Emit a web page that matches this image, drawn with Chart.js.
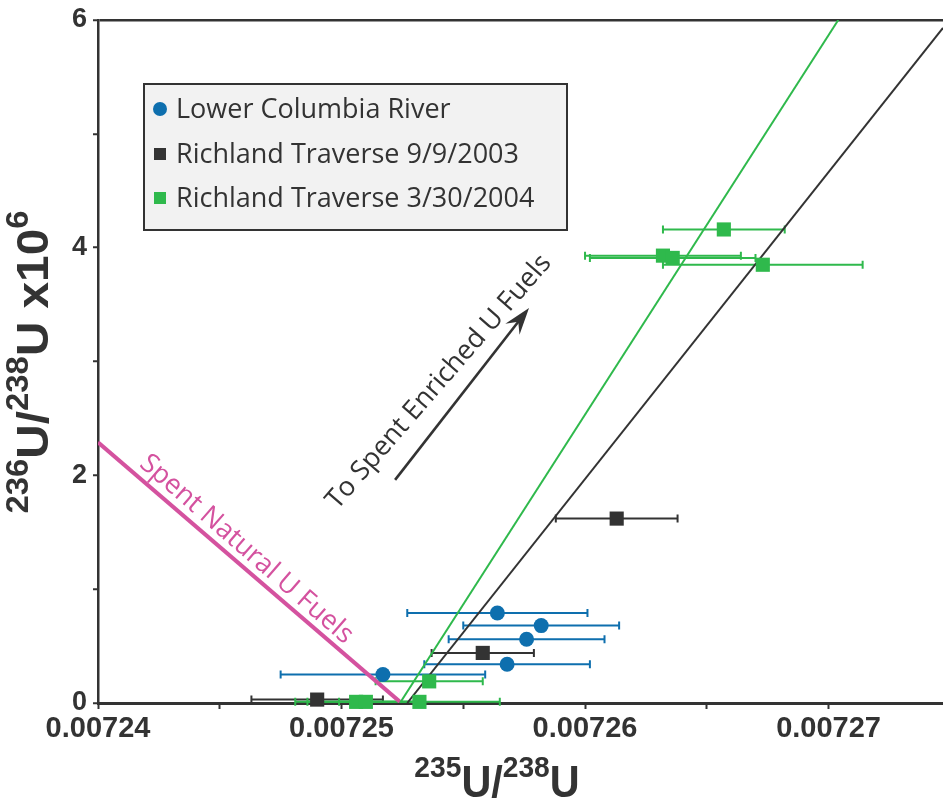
<!DOCTYPE html>
<html>
<head>
<meta charset="utf-8">
<script src="https://cdn.jsdelivr.net/npm/chart.js@4.4.1/dist/chart.umd.min.js"></script>
<style>
  html, body { margin: 0; padding: 0; background: #ffffff; overflow: hidden; }
  canvas { display: block; }
</style>
</head>
<body>
<canvas id="c" width="943" height="802" style="width:943px;height:802px"></canvas>
<script>
// ---------------- data ----------------
const seriesNames = ['Lower Columbia River', 'Richland Traverse 9/9/2003', 'Richland Traverse 3/30/2004'];

const lcrX    = [0.0072564, 0.0072582, 0.0072576, 0.0072568, 0.0072517];
const lcrY    = [0.79, 0.68, 0.56, 0.34, 0.25];
const lcrXErr = [0.0000037, 0.0000032, 0.0000032, 0.0000034, 0.0000042];

const rt2003X    = [0.0072613, 0.0072558, 0.0072490];
const rt2003Y    = [1.62, 0.44, 0.03];
const rt2003XErr = [0.0000025, 0.0000021, 0.0000027];

const rt2004X    = [0.0072657, 0.0072632, 0.0072636, 0.0072673, 0.0072536, 0.0072532, 0.0072506, 0.0072510];
const rt2004Y    = [4.16, 3.93, 3.91, 3.85, 0.19, 0.01, 0.01, 0.01];
const rt2004XErr = [0.0000025, 0.0000032, 0.0000034, 0.0000041, 0.0000022, 0.0000033, 0.0000025, 0.0000024];

// mixing / trend lines (end points)
const greenLineX = [0.0072524, 0.0072704];
const greenLineY = [0, 6];
const blackLineX = [0.0072527, 0.0072747];
const blackLineY = [0, 5.93];
const pinkLineX  = [0.00724, 0.0072524];
const pinkLineY  = [2.29, 0.01];

// axes
const xMin = 0.00724, xMax = 0.0072747;
const yMin = 0, yMax = 6;
const xTickValues = [0.00724, 0.007245, 0.00725, 0.007255, 0.00726, 0.007265, 0.00727];
const xTickLabels = ['0.00724', '', '0.00725', '', '0.00726', '', '0.00727'];
const yTickValues = [0, 1, 2, 3, 4, 5, 6];
const yTickLabels = ['0', '', '2', '', '4', '', '6'];

// titles / annotation text
const xTitleParts = [['235', true], ['U', false], ['/', false], ['238', true], ['U', false]];
const yTitleParts = [['236', true], ['U', false], ['/', false], ['238', true], ['U', false], [' x10', false], ['6', true]];
const arrowLabel = 'To Spent Enriched U Fuels';
const pinkLabel  = 'Spent Natural U Fuels';

// ---------------- styles ----------------
const BLUE = '#0e6fae', DARK = '#333333', GREEN = '#2fb94c', PINK = '#d4529f';
const X_TICK_FONT = { family: 'Liberation Sans', weight: 'bold', size: 29 };
const Y_TICK_FONT = { family: 'Liberation Sans', weight: 'bold', size: 27 };
const NOTE_FONT = '27px "Open Sans"';

const pts = (xs, ys) => xs.map((x, i) => ({ x: x, y: ys[i] }));

// annotation anchors (data coordinates)
const arrowFrom = { x: 0.0072522, y: 1.96 };
const arrowTo   = { x: 0.0072577, y: 3.47 };
const arrowTextAt = { x: 0.0072540, y: 2.82 };
const pinkTextAt  = { x: 0.0072461, y: 1.35 };

// ---------------- plugins ----------------
const errorBars = {
  id: 'errorBars',
  beforeDatasetsDraw(chart) {
    const ctx = chart.ctx, xs = chart.scales.x, ys = chart.scales.y;
    chart.data.datasets.forEach((ds) => {
      if (!ds.xErr) return;
      ctx.save();
      ctx.strokeStyle = ds.errColor;
      ctx.lineWidth = 2;
      ds.data.forEach((p, j) => {
        const e = ds.xErr[j];
        const x1 = xs.getPixelForValue(p.x - e);
        const x2 = xs.getPixelForValue(p.x + e);
        const y = ys.getPixelForValue(p.y);
        ctx.beginPath();
        ctx.moveTo(x1, y); ctx.lineTo(x2, y);
        ctx.moveTo(x1, y - 4); ctx.lineTo(x1, y + 4);
        ctx.moveTo(x2, y - 4); ctx.lineTo(x2, y + 4);
        ctx.stroke();
      });
      ctx.restore();
    });
  }
};

// rich text: parts [text, isSuperscript]; st = {big, sup, raise, sx}
function drawRich(ctx, parts, st) {
  let w = 0;
  parts.forEach(([t, sup]) => { ctx.font = sup ? st.sup : st.big; w += ctx.measureText(t).width; });
  ctx.scale(st.sx, 1);
  let x = -w / 2;
  ctx.textAlign = 'left';
  ctx.textBaseline = 'alphabetic';
  parts.forEach(([t, sup]) => {
    ctx.font = sup ? st.sup : st.big;
    ctx.fillText(t, x, sup ? -st.raise : 0);
    x += ctx.measureText(t).width;
  });
}

const decorations = {
  id: 'decorations',
  afterDraw(chart) {
    const ctx = chart.ctx, xs = chart.scales.x, ys = chart.scales.y;
    ctx.save();
    ctx.fillStyle = DARK;

    // axis titles
    ctx.save();
    ctx.translate(497, 797);
    drawRich(ctx, xTitleParts, { big: 'bold 44px "Liberation Sans"', sup: 'bold 30px "Liberation Sans"', raise: 20, sx: 0.94 });
    ctx.restore();
    ctx.save();
    ctx.translate(48, 362);
    ctx.rotate(-Math.PI / 2);
    drawRich(ctx, yTitleParts, { big: 'bold 45px "Liberation Sans"', sup: 'bold 31px "Liberation Sans"', raise: 20, sx: 1.06 });
    ctx.restore();

    // legend box
    ctx.fillStyle = '#f2f2f2';
    ctx.fillRect(144, 84, 423, 146);
    ctx.strokeStyle = DARK;
    ctx.lineWidth = 2;
    ctx.strokeRect(144, 84, 423, 146);
    const rows = [109, 154, 198];
    for (let i = 0; i < 3; i++) {
      const ds = chart.data.datasets[i];
      ctx.fillStyle = ds.backgroundColor;
      if (ds.pointStyle === 'circle') {
        ctx.beginPath(); ctx.arc(160, rows[i], 7, 0, Math.PI * 2); ctx.fill();
      } else {
        ctx.fillRect(154, rows[i] - 6, 12, 12);
      }
      ctx.fillStyle = DARK;
      ctx.font = NOTE_FONT;
      ctx.textAlign = 'left';
      ctx.textBaseline = 'middle';
      ctx.fillText(ds.label, 176, rows[i] + 1);
    }

    // arrow
    const ax0 = xs.getPixelForValue(arrowFrom.x), ay0 = ys.getPixelForValue(arrowFrom.y);
    const ax1 = xs.getPixelForValue(arrowTo.x), ay1 = ys.getPixelForValue(arrowTo.y);
    const ang = Math.atan2(ay1 - ay0, ax1 - ax0);
    const hl = 27, hw = 9;
    const ux = Math.cos(ang), uy = Math.sin(ang);
    ctx.strokeStyle = DARK;
    ctx.lineWidth = 2.6;
    ctx.beginPath();
    ctx.moveTo(ax0, ay0);
    ctx.lineTo(ax1 - ux * hl * 0.6, ay1 - uy * hl * 0.6);
    ctx.stroke();
    ctx.fillStyle = DARK;
    ctx.beginPath();
    ctx.moveTo(ax1, ay1);
    ctx.lineTo(ax1 - ux * hl - uy * hw, ay1 - uy * hl + ux * hw);
    ctx.lineTo(ax1 - ux * hl * 0.65, ay1 - uy * hl * 0.65);
    ctx.lineTo(ax1 - ux * hl + uy * hw, ay1 - uy * hl - ux * hw);
    ctx.closePath();
    ctx.fill();

    // arrow label
    ctx.save();
    ctx.translate(xs.getPixelForValue(arrowTextAt.x), ys.getPixelForValue(arrowTextAt.y));
    ctx.rotate(-49 * Math.PI / 180);
    ctx.font = NOTE_FONT;
    ctx.fillStyle = DARK;
    ctx.textAlign = 'center';
    ctx.textBaseline = 'middle';
    ctx.fillText(arrowLabel, 0, 0);
    ctx.restore();

    // pink label
    ctx.save();
    ctx.translate(xs.getPixelForValue(pinkTextAt.x), ys.getPixelForValue(pinkTextAt.y));
    ctx.rotate(41 * Math.PI / 180);
    ctx.font = NOTE_FONT;
    ctx.fillStyle = PINK;
    ctx.textAlign = 'center';
    ctx.textBaseline = 'middle';
    ctx.fillText(pinkLabel, 0, 0);
    ctx.restore();

    ctx.restore();
  }
};

// ---------------- chart ----------------
new Chart(document.getElementById('c'), {
  type: 'scatter',
  data: {
    datasets: [
      { label: seriesNames[0], data: pts(lcrX, lcrY), xErr: lcrXErr, errColor: BLUE,
        backgroundColor: BLUE, borderColor: BLUE, pointStyle: 'circle', pointRadius: 7.5,
        borderWidth: 0, clip: false, order: 1 },
      { label: seriesNames[1], data: pts(rt2003X, rt2003Y), xErr: rt2003XErr, errColor: DARK,
        backgroundColor: DARK, borderColor: DARK, pointStyle: 'rect', pointRadius: 10,
        borderWidth: 0, clip: false, order: 2 },
      { label: seriesNames[2], data: pts(rt2004X, rt2004Y), xErr: rt2004XErr, errColor: GREEN,
        backgroundColor: GREEN, borderColor: GREEN, pointStyle: 'rect', pointRadius: 10,
        borderWidth: 0, clip: false, order: 3 },
      { label: 'green line', data: pts(greenLineX, greenLineY), showLine: true, pointRadius: 0,
        borderColor: GREEN, borderWidth: 2, order: 10 },
      { label: 'black line', data: pts(blackLineX, blackLineY), showLine: true, pointRadius: 0,
        borderColor: DARK, borderWidth: 2, order: 11 },
      { label: 'pink line', data: pts(pinkLineX, pinkLineY), showLine: true, pointRadius: 0,
        borderColor: PINK, borderWidth: 4, order: 12 }
    ]
  },
  options: {
    responsive: false,
    maintainAspectRatio: false,
    devicePixelRatio: 1,
    animation: false,
    layout: { autoPadding: false, padding: { top: 20, right: 0, left: 0, bottom: 0 } },
    plugins: { legend: { display: false }, tooltip: { enabled: false } },
    scales: {
      x: {
        type: 'linear', min: xMin, max: xMax,
        afterBuildTicks: (s) => { s.ticks = xTickValues.map(v => ({ value: v })); },
        afterFit: (s) => { s.height = 99; s.paddingRight = 0; s.paddingLeft = 0; },
        border: { display: true, color: DARK, width: 3 },
        grid: { display: true, drawOnChartArea: false, drawTicks: true, tickLength: 6, tickWidth: 2, tickColor: DARK },
        ticks: { autoSkip: false, maxRotation: 0, minRotation: 0, padding: 3, color: DARK, font: X_TICK_FONT,
                 callback: (v, i) => xTickLabels[i] }
      },
      y: {
        type: 'linear', min: yMin, max: yMax,
        afterBuildTicks: (s) => { s.ticks = yTickValues.map(v => ({ value: v })); },
        afterFit: (s) => { s.width = 98; s.paddingTop = 0; s.paddingBottom = 0; },
        border: { display: true, color: DARK, width: 2.5 },
        grid: { display: true, drawOnChartArea: true, drawTicks: true, tickLength: 5, tickWidth: 2,
                tickColor: DARK, lineWidth: 2.5,
                color: (c) => (c.tick && c.tick.value === yMax) ? DARK : 'rgba(0,0,0,0)' },
        ticks: { autoSkip: false, padding: 6, color: DARK, font: Y_TICK_FONT,
                 callback: (v, i) => yTickLabels[i] }
      }
    }
  },
  plugins: [errorBars, decorations]
});
</script>
</body>
</html>
